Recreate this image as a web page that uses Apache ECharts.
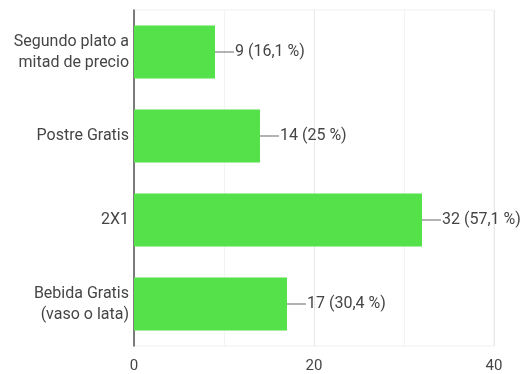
<!DOCTYPE html>
<html>
<head>
<meta charset="utf-8">
<style>
  html, body { margin: 0; padding: 0; background: #fff; }
  #chart { width: 525px; height: 374px; }
</style>
<script src="https://cdn.jsdelivr.net/npm/echarts@6/dist/echarts.min.js"></script>
</head>
<body>
<div id="chart"></div>
<script>
// Survey answers and number of responses per option
const categories = [
  'Segundo plato a\nmitad de precio',
  'Postre Gratis',
  '2X1',
  'Bebida Gratis\n(vaso o lata)'
];
const responses = [9, 14, 32, 17];
const totalRespondents = 56;
const xTicks = [0, 20, 40];

const FONT = 'Roboto, "Noto Sans", sans-serif';
const TEXT = '#454545';

function pct(v) {
  return (Math.round(v / totalRespondents * 1000) / 10).toString().replace('.', ',') + ' %';
}

const chart = echarts.init(document.getElementById('chart'), null, { renderer: 'canvas' });
chart.setOption({
  animation: false,
  backgroundColor: '#fff',
  grid: {
    left: 134, right: 31, top: 10, bottom: 28,
    show: true, borderColor: '#efefef', borderWidth: 1
  },
  xAxis: {
    type: 'value',
    min: 0, max: 40, interval: 10,
    axisLine: { show: false },
    axisTick: { show: false },
    axisLabel: {
      color: TEXT, fontFamily: FONT, fontSize: 15, margin: 13,
      formatter: v => xTicks.includes(v) ? String(v) : ''
    },
    splitLine: {
      lineStyle: { color: ['#e8e8e8', '#f2f2f2', '#e8e8e8', '#f2f2f2', '#e8e8e8'], width: 1 }
    }
  },
  yAxis: {
    type: 'category',
    inverse: true,
    data: categories,
    axisLine: { show: true, lineStyle: { color: '#555', width: 1.5 } },
    axisTick: { show: false },
    axisLabel: {
      color: TEXT, fontFamily: FONT, fontSize: 16, margin: 5,
      lineHeight: 21, align: 'right'
    }
  },
  series: [{
    type: 'bar',
    data: responses,
    barCategoryGap: '37%',
    itemStyle: { color: '#55e14a' },
    label: {
      show: true,
      position: 'right',
      distance: 0,
      color: TEXT,
      fontFamily: FONT,
      fontSize: 16,
      formatter: p => '{l|}{t|' + p.value + ' (' + pct(p.value) + ')}',
      rich: {
        l: { width: 19, height: 1, backgroundColor: '#666', verticalAlign: 'middle' },
        t: { color: TEXT, fontFamily: FONT, fontSize: 16, padding: [0, 0, 0, 1] }
      }
    }
  }]
});
</script>
</body>
</html>
